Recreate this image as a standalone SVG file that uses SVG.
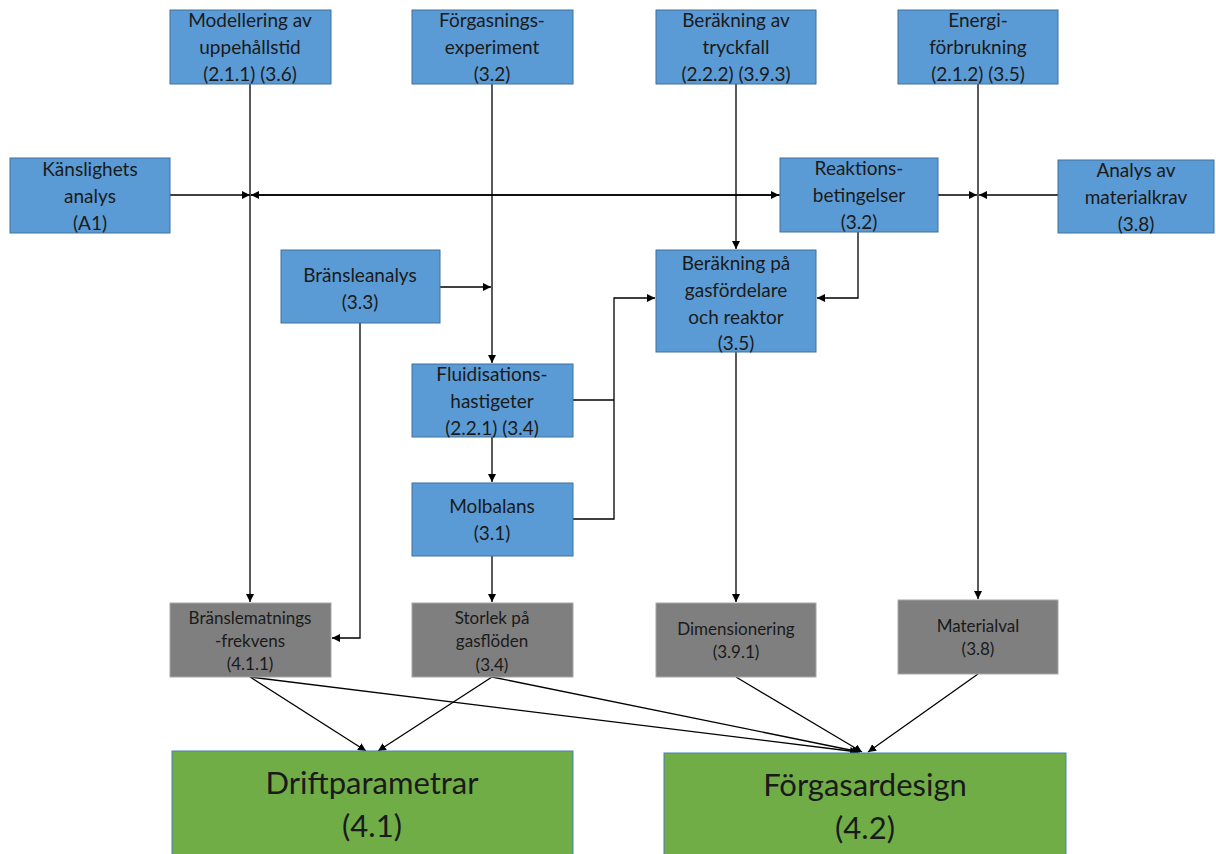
<svg xmlns="http://www.w3.org/2000/svg" width="1216" height="854" viewBox="0 0 1216 854">
<style>
.b{fill:#5b9bd5;stroke:#41719c;stroke-width:1}
.g{fill:#7f7f7f;stroke:#a6a6a6;stroke-width:1}
.gr{fill:#70ad47;stroke:#4a7ebb;stroke-width:1}
text{font-family:Lato,"Liberation Sans",sans-serif;font-size:19px;fill:#1a1a1a;text-anchor:middle}
.s{font-size:17px}
.L{font-size:31px}
.c{stroke:#000;stroke-width:1.3;fill:none}
</style>
<defs>
<marker id="a" viewBox="0 0 10 10" refX="10" refY="5" markerWidth="8" markerHeight="8" markerUnits="userSpaceOnUse" orient="auto"><path d="M0,0 L10,5 L0,10 z" fill="#000"/></marker>
</defs>
<g id="connectors">
<path class="c" d="M250,84 V602" marker-end="url(#a)"/>
<path class="c" d="M492,84 V363" marker-end="url(#a)"/>
<path class="c" d="M736,84 V249" marker-end="url(#a)"/>
<path class="c" d="M978,84 V599" marker-end="url(#a)"/>
<path class="c" d="M170,195 H250" marker-end="url(#a)"/>
<path class="c" d="M780,195 H251" marker-end="url(#a)"/>
<path class="c" d="M251,195 H779" marker-end="url(#a)"/>
<path class="c" d="M938,195 H977" marker-end="url(#a)"/>
<path class="c" d="M1058,195 H979" marker-end="url(#a)"/>
<path class="c" d="M858,232 V298 H817" marker-end="url(#a)"/>
<path class="c" d="M440,287 H491" marker-end="url(#a)"/>
<path class="c" d="M573,400 H614"/>
<path class="c" d="M573,519 H614 V298 H655" marker-end="url(#a)"/>
<path class="c" d="M492,437 V482" marker-end="url(#a)"/>
<path class="c" d="M492,556 V602" marker-end="url(#a)"/>
<path class="c" d="M360,323 V638 H332" marker-end="url(#a)"/>
<path class="c" d="M736,352 V602" marker-end="url(#a)"/>
<path class="c" d="M250,677 L366,751" marker-end="url(#a)"/>
<path class="c" d="M250,677 L858,752" marker-end="url(#a)"/>
<path class="c" d="M492,677 L378,751" marker-end="url(#a)"/>
<path class="c" d="M492,677 L860,752" marker-end="url(#a)"/>
<path class="c" d="M736,677 L862,752" marker-end="url(#a)"/>
<path class="c" d="M978,674 L868,752" marker-end="url(#a)"/>
</g>
<g id="n1"><rect class="b" x="170" y="10" width="161" height="74"/><text x="250" y="27">Modellering av</text><text x="250" y="54">uppehållstid</text><text x="250" y="81">(2.1.1) (3.6)</text></g>
<g id="n2"><rect class="b" x="412" y="10" width="161" height="74"/><text x="492" y="27">Förgasnings-</text><text x="492" y="54">experiment</text><text x="492" y="81">(3.2)</text></g>
<g id="n3"><rect class="b" x="656" y="10" width="160" height="74"/><text x="736" y="27">Beräkning av</text><text x="736" y="54">tryckfall</text><text x="736" y="81">(2.2.2) (3.9.3)</text></g>
<g id="n4"><rect class="b" x="898" y="10" width="160" height="74"/><text x="978" y="27">Energi-</text><text x="978" y="54">förbrukning</text><text x="978" y="81">(2.1.2) (3.5)</text></g>
<g id="n5"><rect class="b" x="10" y="158" width="160" height="75"/><text x="90" y="176">Känslighets</text><text x="90" y="203">analys</text><text x="90" y="230">(A1)</text></g>
<g id="n6"><rect class="b" x="780" y="158" width="158" height="74"/><text x="859" y="175">Reaktions-</text><text x="859" y="202">betingelser</text><text x="859" y="229">(3.2)</text></g>
<g id="n7"><rect class="b" x="1058" y="160" width="156" height="73"/><text x="1136" y="177">Analys av</text><text x="1136" y="204">materialkrav</text><text x="1136" y="231">(3.8)</text></g>
<g id="n8"><rect class="b" x="281" y="250" width="159" height="73"/><text x="360" y="282">Bränsleanalys</text><text x="360" y="309">(3.3)</text></g>
<g id="n9"><rect class="b" x="656" y="250" width="160" height="102"/><text x="736" y="270">Beräkning på</text><text x="736" y="297">gasfördelare</text><text x="736" y="324">och reaktor</text><text x="736" y="350">(3.5)</text></g>
<g id="n10"><rect class="b" x="412" y="364" width="161" height="73"/><text x="492" y="381">Fluidisations-</text><text x="492" y="408">hastigeter</text><text x="492" y="435">(2.2.1) (3.4)</text></g>
<g id="n11"><rect class="b" x="412" y="483" width="161" height="73"/><text x="492" y="513">Molbalans</text><text x="492" y="540">(3.1)</text></g>
<g id="n12"><rect class="g" x="170" y="603" width="161" height="74"/><text class="s" x="250" y="624">Bränslematnings</text><text class="s" x="250" y="647">-frekvens</text><text class="s" x="250" y="670">(4.1.1)</text></g>
<g id="n13"><rect class="g" x="412" y="603" width="161" height="74"/><text class="s" x="492" y="624">Storlek på</text><text class="s" x="492" y="647">gasflöden</text><text class="s" x="492" y="671">(3.4)</text></g>
<g id="n14"><rect class="g" x="656" y="603" width="160" height="74"/><text class="s" x="736" y="635">Dimensionering</text><text class="s" x="736" y="658">(3.9.1)</text></g>
<g id="n15"><rect class="g" x="898" y="600" width="160" height="74"/><text class="s" x="978" y="632">Materialval</text><text class="s" x="978" y="655">(3.8)</text></g>
<g id="n16"><rect class="gr" x="172" y="751" width="401" height="110"/><text class="L" x="372" y="794">Driftparametrar</text><text class="L" x="372" y="837">(4.1)</text></g>
<g id="n17"><rect class="gr" x="664" y="753" width="402" height="110"/><text class="L" x="865" y="796">Förgasardesign</text><text class="L" x="865" y="839">(4.2)</text></g>
</svg>
